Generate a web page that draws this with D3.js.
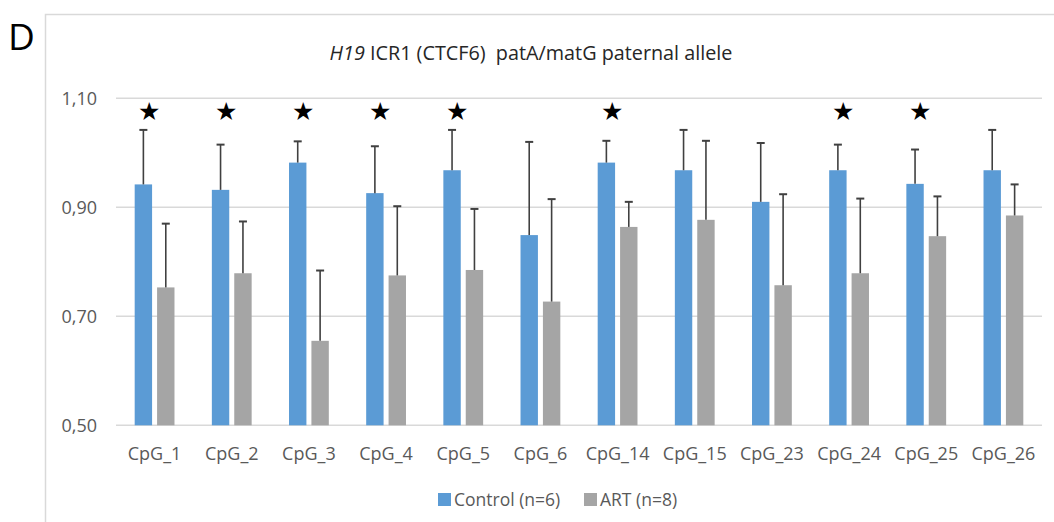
<!DOCTYPE html>
<html>
<head>
<meta charset="utf-8">
<script src="https://cdn.jsdelivr.net/npm/d3@7"></script>
<style>
  body { margin: 0; background: #fff; }
  text { font-family: "Open Sans", "Liberation Sans", sans-serif; }
</style>
</head>
<body>
<script>
const w = 1054;
const h = 522;

// data
const categories = ["CpG_1", "CpG_2", "CpG_3", "CpG_4", "CpG_5", "CpG_6", "CpG_14", "CpG_15", "CpG_23", "CpG_24", "CpG_25", "CpG_26"];
const controlMean = [0.942, 0.932, 0.982, 0.926, 0.968, 0.849, 0.982, 0.968, 0.910, 0.968, 0.943, 0.968];
const controlTop  = [1.042, 1.015, 1.021, 1.012, 1.042, 1.020, 1.022, 1.042, 1.018, 1.015, 1.006, 1.042];
const artMean     = [0.753, 0.779, 0.655, 0.775, 0.785, 0.727, 0.864, 0.877, 0.757, 0.779, 0.847, 0.885];
const artTop      = [0.870, 0.874, 0.784, 0.902, 0.897, 0.915, 0.910, 1.022, 0.924, 0.916, 0.920, 0.942];
const significant = ["CpG_1", "CpG_2", "CpG_3", "CpG_4", "CpG_5", "CpG_14", "CpG_24", "CpG_25"];
const yTicks = [0.5, 0.7, 0.9, 1.1];
const seriesNames = ["Control (n=6)", "ART (n=8)"];
const colors = ["#5B9BD5", "#A5A5A5"];

const plotLeft = 116, plotRight = 1042, plotTop = 98.3, plotBottom = 425.3;

const svg = d3.select("body")
              .append("svg")
              .attr("width", w)
              .attr("height", h);

// outer frame
svg.append("rect")
   .attr("x", 45.5).attr("y", 14.5)
   .attr("width", 1020).attr("height", 520)
   .attr("fill", "none")
   .attr("stroke", "#D9D9D9")
   .attr("stroke-width", 1.5);

svg.append("text")
   .text("D")
   .attr("x", 8)
   .attr("y", 50)
   .attr("font-size", "37px")
   .attr("fill", "#000");

const title = svg.append("text")
   .attr("x", 531)
   .attr("y", 60)
   .attr("text-anchor", "middle")
   .attr("font-size", "19.8px")
   .attr("fill", "#262626")
   .style("white-space", "pre");
title.append("tspan").attr("font-style", "italic").text("H19");
title.append("tspan").text(" ICR1 (CTCF6)  patA/matG paternal allele");

const xScale = d3.scaleBand()
                 .domain(categories)
                 .range([plotLeft, plotRight]);

const yScale = d3.scaleLinear()
                 .domain([0.5, 1.1])
                 .range([plotBottom, plotTop]);

// gridlines
svg.append("g")
   .selectAll("line")
   .data(yTicks)
   .enter()
   .append("line")
   .attr("x1", plotLeft).attr("x2", plotRight)
   .attr("y1", d => yScale(d)).attr("y2", d => yScale(d))
   .attr("stroke", "#D9D9D9")
   .attr("stroke-width", 1.5);

const yAxis = d3.axisLeft(yScale)
                .tickValues(yTicks)
                .tickSize(0)
                .tickPadding(19)
                .tickFormat(d => d3.format(".2f")(d).replace(".", ","));

svg.append("g")
   .attr("transform", "translate(" + plotLeft + ",0)")
   .call(yAxis)
   .call(g => g.select(".domain").remove())
   .selectAll("text")
   .attr("font-size", "18px")
   .attr("fill", "#595959")
   .attr("font-family", "Open Sans, sans-serif");

const xAxis = d3.axisBottom(xScale).tickSize(0).tickPadding(22);

svg.append("g")
   .attr("transform", "translate(0," + plotBottom + ")")
   .call(xAxis)
   .call(g => g.select(".domain").remove())
   .selectAll("text")
   .attr("font-size", "18px")
   .attr("fill", "#595959")
   .attr("font-family", "Open Sans, sans-serif");

const barW = 17.4;
const gap = 5;
const rows = categories.map((c, i) => ({
  cat: c,
  vals: [controlMean[i], artMean[i]],
  tops: [controlTop[i], artTop[i]]
}));

const groups = svg.selectAll(".grp")
   .data(rows)
   .enter()
   .append("g")
   .attr("class", "grp")
   .attr("transform", d => "translate(" + (xScale(d.cat) + xScale.bandwidth() / 2) + ",0)");

[0, 1].forEach(s => {
  const off = s === 0 ? -(gap / 2 + barW) : gap / 2;
  groups.append("rect")
     .attr("x", off)
     .attr("y", d => yScale(d.vals[s]))
     .attr("width", barW)
     .attr("height", d => plotBottom - yScale(d.vals[s]))
     .attr("fill", colors[s]);

  const cx = off + barW / 2;
  groups.append("line")
     .attr("x1", cx).attr("x2", cx)
     .attr("y1", d => yScale(d.vals[s]))
     .attr("y2", d => yScale(d.tops[s]))
     .attr("stroke", "#404040")
     .attr("stroke-width", 1.6);
  groups.append("line")
     .attr("x1", cx - 4).attr("x2", cx + 4)
     .attr("y1", d => yScale(d.tops[s]))
     .attr("y2", d => yScale(d.tops[s]))
     .attr("stroke", "#404040")
     .attr("stroke-width", 2);
});

// significance stars
svg.selectAll(".star")
   .data(significant)
   .enter()
   .append("text")
   .attr("class", "star")
   .attr("x", d => xScale(d) + xScale.bandwidth() / 2 - 6)
   .attr("y", 120)
   .attr("text-anchor", "middle")
   .attr("font-size", "25px")
   .attr("font-family", "DejaVu Sans")
   .attr("fill", "#000")
   .text("★");

// legend
const legend = svg.append("g").attr("transform", "translate(438,493)");
const lx = [0, 146];
seriesNames.forEach((n, i) => {
  legend.append("rect")
     .attr("x", lx[i]).attr("y", 0)
     .attr("width", 13).attr("height", 13)
     .attr("fill", colors[i]);
  legend.append("text")
     .attr("x", lx[i] + 16).attr("y", 12.5)
     .attr("font-size", "17.5px")
     .attr("fill", "#595959")
     .text(n);
});
</script>
</body>
</html>
